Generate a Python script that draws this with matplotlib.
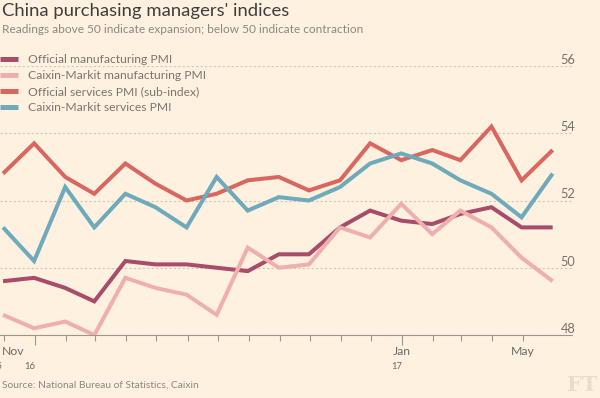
import matplotlib
matplotlib.use('Agg')
import matplotlib.pyplot as plt
import matplotlib.dates as mdates
import matplotlib.transforms as mtransforms
import pandas as pd

# monthly readings, Nov 2015 - May 2017 (plotted at month end)
dates = pd.date_range('2015-11-30', periods=19, freq='ME')
official_mfg = [49.6, 49.7, 49.4, 49.0, 50.2, 50.1, 50.1, 50.0, 49.9, 50.4,
                50.4, 51.2, 51.7, 51.4, 51.3, 51.6, 51.8, 51.2, 51.2]
caixin_mfg = [48.6, 48.2, 48.4, 48.0, 49.7, 49.4, 49.2, 48.6, 50.6, 50.0,
              50.1, 51.2, 50.9, 51.9, 51.0, 51.7, 51.2, 50.3, 49.6]
official_srv = [52.8, 53.7, 52.7, 52.2, 53.1, 52.5, 52.0, 52.2, 52.6, 52.7,
                52.3, 52.6, 53.7, 53.2, 53.5, 53.2, 54.2, 52.6, 53.5]
caixin_srv = [51.2, 50.2, 52.4, 51.2, 52.2, 51.8, 51.2, 52.7, 51.7, 52.1,
              52.0, 52.4, 53.1, 53.4, 53.1, 52.6, 52.2, 51.5, 52.8]

series_names = ['Official manufacturing PMI', 'Caixin-Markit manufacturing PMI',
                'Official services PMI (sub-index)', 'Caixin-Markit services PMI']
series_colors = ['#a84c6a', '#efafae', '#d9675f', '#6eaabb']
y_ticks = [48, 50, 52, 54, 56]
month_labels = [('2015-11-01', 'Nov'), ('2017-01-01', 'Jan'), ('2017-05-01', 'May')]
year_labels = [('2015-11-01', '15'), ('2016-01-01', '16'), ('2017-01-01', '17')]

plt.rcParams['font.family'] = ['Lato', 'DejaVu Sans']

bg = '#fff1e0'
fig = plt.figure(figsize=(6, 3.98), dpi=100, facecolor=bg)
ax = fig.add_axes([0.0, 1 - 335 / 398, 571.7 / 600, (335 - 66) / 398])
ax.set_facecolor(bg)

for vals, name, col in zip([official_mfg, caixin_mfg, official_srv, caixin_srv],
                           series_names, series_colors):
    ax.plot(dates, vals, color=col, lw=2.9, label=name, solid_joinstyle='miter',
            solid_capstyle='butt', zorder=3)

ax.set_xlim(pd.Timestamp('2015-11-27'), pd.Timestamp('2017-06-19'))
ax.set_ylim(48, 56)

for s in ['top', 'left', 'right']:
    ax.spines[s].set_visible(False)
ax.spines['bottom'].set_color('#9d968d')
ax.spines['bottom'].set_linewidth(0.8)

ax.set_yticks(y_ticks)
ax.yaxis.grid(True, color='#cfc6ba', ls=(0, (2, 2)), lw=0.8)
ax.tick_params(axis='y', left=False, right=False, labelleft=False, labelright=True,
               pad=-1, labelsize=9.2, labelcolor='#76716b')
for lbl in ax.get_yticklabels():
    lbl.set_ha('right')
    lbl.set_va('bottom')

ax.xaxis.set_major_locator(mdates.MonthLocator(bymonth=1))
ax.tick_params(axis='x', which='major', length=7.5, width=0.8, color='#9d968d',
               labelbottom=False)
ax.tick_params(axis='x', which='minor', length=4.5, width=0.8, color='#9d968d')
ax.set_xticks([pd.Timestamp(d) for d in pd.date_range('2015-12-01', '2017-05-01', freq='MS')],
              minor=True)

trans = mtransforms.blended_transform_factory(ax.transData, ax.transAxes)
for d, txt in month_labels:
    x = mdates.date2num(pd.Timestamp(d))
    if x < ax.get_xlim()[0]:
        ax.text(0.004, -0.04, txt, transform=ax.transAxes, ha='left', va='top',
                fontsize=8.8, color='#6e6a65', clip_on=False)
    else:
        ax.text(x, -0.04, txt, transform=trans, ha='center', va='top',
                fontsize=8.8, color='#6e6a65', clip_on=False)
for d, txt in year_labels:
    x = mdates.date2num(pd.Timestamp(d))
    if x < ax.get_xlim()[0]:
        ax.text(0.004, -0.1, txt, transform=ax.transAxes, ha='right', va='top',
                fontsize=6.8, color='#6e6a65', clip_on=False)
    else:
        off = mtransforms.ScaledTranslation(-5 / 100, 0, fig.dpi_scale_trans)
        ax.text(x, -0.1, txt, transform=trans + off, ha='center', va='top',
                fontsize=6.8, color='#6e6a65', clip_on=False)

leg = ax.legend(loc='upper left', bbox_to_anchor=(0.0, 1 - 54 / 398),
                bbox_transform=fig.transFigure, frameon=False, fontsize=8.7,
                handlelength=1.5, handletextpad=0.8, labelspacing=0.42,
                borderpad=0, borderaxespad=0)
for t in leg.get_texts():
    t.set_color('#7a7570')
for h in leg.get_lines():
    h.set_linewidth(3.6)

fig.text(0.003, 1 - 3 / 398, "China purchasing managers' indices", ha='left', va='top',
         fontsize=13.3, color='#3f3e3c')
fig.text(0.003, 1 - 24 / 398,
         'Readings above 50 indicate expansion; below 50 indicate contraction',
         ha='left', va='top', fontsize=8.6, color='#8c8782')
fig.text(0.003, 1 - 381 / 398, 'Source: National Bureau of Statistics, Caixin',
         ha='left', va='top', fontsize=7.4, color='#8c8782')
fig.text(0.995, 1 - 395 / 398, 'FT', ha='right', va='bottom', fontsize=15,
         family='DejaVu Serif', fontweight='bold', color='#e8dccb')

fig.savefig('out.png', dpi=100, facecolor=bg)
